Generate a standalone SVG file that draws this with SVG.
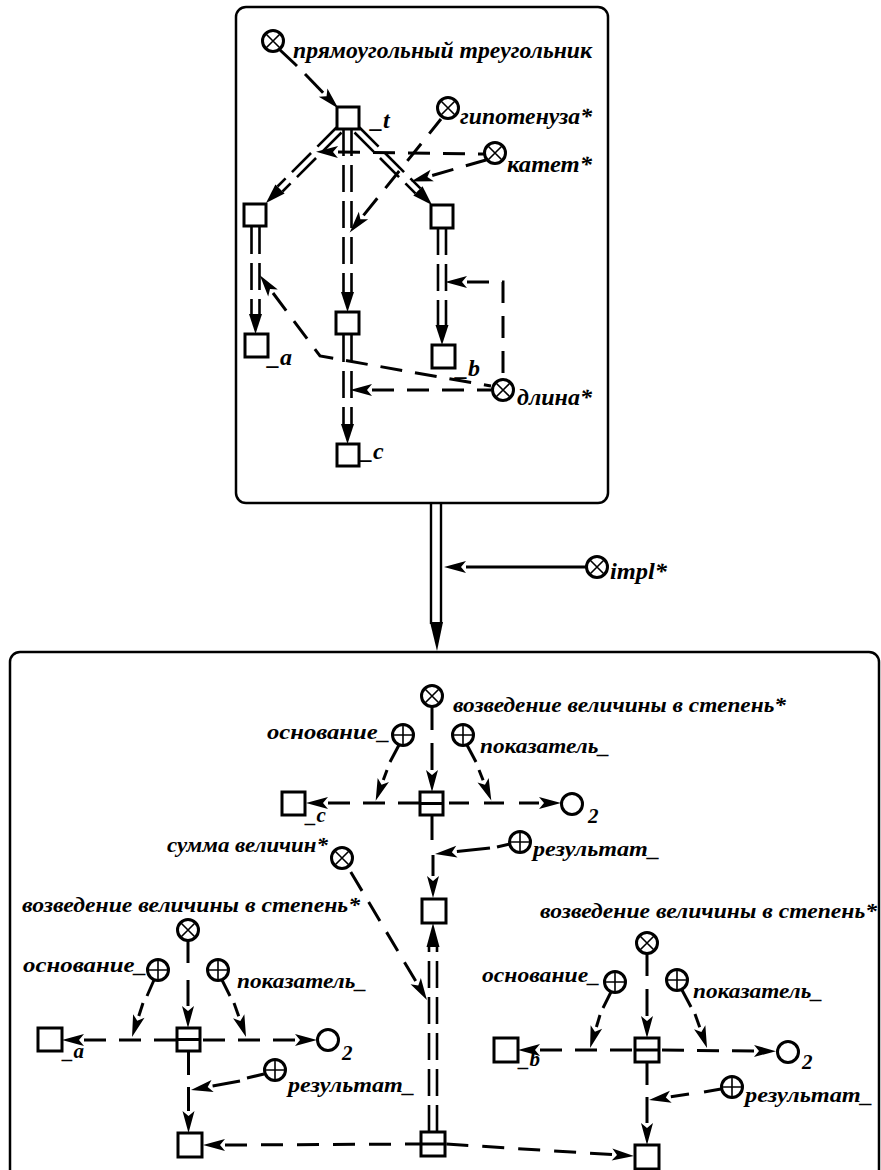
<svg xmlns="http://www.w3.org/2000/svg" xmlns:xlink="http://www.w3.org/1999/xlink" width="881" height="1170" viewBox="0 0 881 1170">
<style>
.bg{fill:#fff}
.fr{fill:none;stroke:#000;stroke-width:2.5}
.n{fill:#fff;stroke:#000;stroke-width:3}
.x{stroke:#000;stroke-width:1.6;fill:none}
.ln{stroke:#000;stroke-width:3;fill:none}
.d{stroke-dasharray:22 13}
.dd{stroke:#000;stroke-width:2.6;fill:none;stroke-dasharray:27 9}
.ah{fill:#000}
text{font-family:"Liberation Serif","Times New Roman",serif;font-style:italic;font-weight:bold;fill:#000}
.t1{font-size:24px}
.t2{font-size:21px}
</style>
<defs>
<marker id="ah" markerUnits="userSpaceOnUse" markerWidth="24" markerHeight="12" refX="0" refY="6" orient="auto-start-reverse" overflow="visible">
<path d="M0,0 L22,6 L0,12 L5,6 Z" fill="#000"/>
</marker>
<g id="ox"><circle r="10.5" class="n"/><path d="M-7,-7 L7,7 M-7,7 L7,-7" class="x"/></g>
<g id="op"><circle r="10.5" class="n"/><path d="M-10.5,0 H10.5 M0,-10.5 V10.5" class="x" stroke-width="2.2"/></g>
<g id="oo"><circle r="10.5" class="n"/></g>
</defs>
<rect class="bg" width="881" height="1170"/>

<g id="frame-top"><rect class="fr" x="236" y="7" width="372" height="496" rx="10"/></g>
<g id="frame-bottom"><rect class="fr" x="10" y="652" width="869" height="560" rx="10"/></g>

<g id="connectors">
  <path class="ln" d="M279,49 L297,66"/>
  <path class="ln" d="M323.1,92.7 L305,74" marker-start="url(#ah)"/>
  <path class="ln d" d="M363.5,215.4 L441,119" marker-start="url(#ah)"/>
  <path class="ln d" d="M338,152 L484,154" marker-start="url(#ah)"/>
  <path class="ln d" d="M432.2,175.5 L486,160" marker-start="url(#ah)"/>
  <path class="ln d" d="M273,293 L320,356 L491,386" marker-start="url(#ah)"/>
  <path class="ln d" d="M372,390 L491,390" marker-start="url(#ah)"/>
  <path class="ln d" d="M467,282 L503,282 L503,378" marker-start="url(#ah)"/>

  <path class="dd" d="M341.5,132.5 L282.5,191.5 M336.5,127.5 L277.5,186.5"/>
  <polygon class="ah" points="266,203 284.6,193.6 275.4,184.4"/>
  <path class="dd" d="M359.5,127.5 L420.4,188.4 M354.5,132.5 L415.4,193.4"/>
  <polygon class="ah" points="432,205 422.5,186.3 413.3,195.5"/>
  <path class="dd" d="M343.5,129 V292 M351.5,129 V292"/>
  <polygon class="ah" points="341,292 354,292 347.5,312"/>
  <path class="dd" d="M343.5,335 V424 M351.5,335 V424"/>
  <polygon class="ah" points="341,424 354,424 347.5,444"/>
  <path class="dd" d="M251.5,227 V314 M259.5,227 V314"/>
  <polygon class="ah" points="249,314 262,314 255.5,334"/>
  <path class="dd" d="M438,228 V325 M446,228 V325"/>
  <polygon class="ah" points="435.5,325 448.5,325 442,345"/>

  <path d="M431,504 V624 M441,504 V624" stroke="#000" stroke-width="2.4" fill="none"/>
  <polygon class="ah" points="430,622 443,622 437,651"/>
  <path class="ln" d="M466,567 L586,567" stroke-width="2.4" marker-start="url(#ah)"/>

  <path class="ln" d="M432,707 L432,730"/>
  <path class="ln" d="M432,770 L432,743" marker-start="url(#ah)"/>
  <path class="ln" d="M399,745 L390,762"/>
  <path class="ln" d="M383.3,780 L387,770" marker-start="url(#ah)"/>
  <path class="ln" d="M467,745 L476,762"/>
  <path class="ln" d="M483.1,780.2 L479,770" marker-start="url(#ah)"/>
  <path class="ln d" d="M328,803 L420,803" marker-start="url(#ah)"/>
  <path class="ln" d="M539,803 L443,803" stroke-dasharray="20 15" marker-start="url(#ah)"/>
  <path class="ln" d="M432,815 L432,840"/>
  <path class="ln" d="M433,876 L433,855" marker-start="url(#ah)"/>
  <path class="ln" d="M510,844 L497,847"/>
  <path class="ln" d="M456.9,851.6 L490,848" marker-start="url(#ah)"/>
  <path class="ln d" d="M415.7,981.1 L349,869" marker-start="url(#ah)"/>

  <path class="dd" d="M429,1132 V946 M437,1132 V946" stroke-dasharray="30 8"/>
  <polygon class="ah" points="426.5,947 439.5,947 433,923"/>
  <path class="ln" d="M225,1145 L421,1144" stroke-dasharray="22 14" marker-start="url(#ah)"/>
  <path class="ln" d="M612,1154.6 L445,1144" stroke-dasharray="22 14" marker-start="url(#ah)"/>

  <path class="ln" d="M188,941 L188,963"/>
  <path class="ln" d="M188,1006 L188,980" marker-start="url(#ah)"/>
  <path class="ln" d="M154,980 L147,996"/>
  <path class="ln" d="M138.8,1016 L143,1003" marker-start="url(#ah)"/>
  <path class="ln" d="M222,980 L230,996"/>
  <path class="ln" d="M238.7,1016.3 L234,1003" marker-start="url(#ah)"/>
  <path class="ln d" d="M84,1040 L177,1040" marker-start="url(#ah)"/>
  <path class="ln d" d="M295,1040 L200,1040" marker-start="url(#ah)"/>
  <path class="ln" d="M188.5,1051 L188.5,1075"/>
  <path class="ln" d="M188.5,1111 L188.5,1087" marker-start="url(#ah)"/>
  <path class="ln" d="M264,1074 L247,1078"/>
  <path class="ln" d="M212.6,1086 L240,1081" marker-start="url(#ah)"/>

  <path class="ln" d="M647,954 L647,976"/>
  <path class="ln" d="M647,1016 L647,989" marker-start="url(#ah)"/>
  <path class="ln" d="M611,992 L603,1008"/>
  <path class="ln" d="M596.4,1027 L600,1015" marker-start="url(#ah)"/>
  <path class="ln" d="M682,990 L691,1007"/>
  <path class="ln" d="M699.7,1027.3 L695,1014" marker-start="url(#ah)"/>
  <path class="ln d" d="M540,1050 L635,1050" marker-start="url(#ah)"/>
  <path class="ln d" d="M754,1051 L659,1050" marker-start="url(#ah)"/>
  <path class="ln" d="M647,1062 L647,1085"/>
  <path class="ln" d="M647,1123 L647,1097" marker-start="url(#ah)"/>
  <path class="ln" d="M721,1089 L704,1092"/>
  <path class="ln" d="M670.8,1096.7 L689,1094" marker-start="url(#ah)"/>
</g>

<g id="n-triangle-class"><use xlink:href="#ox" x="273" y="41"/><text class="t1" x="293" y="58" textLength="299" lengthAdjust="spacingAndGlyphs">прямоугольный треугольник</text></g>
<g id="n-t"><rect class="n" x="337" y="107" width="22" height="22"/><text class="t1" x="371" y="128">_t</text></g>
<g id="n-hyp"><use xlink:href="#ox" x="448" y="108"/><text class="t1" x="460" y="124" textLength="132" lengthAdjust="spacingAndGlyphs">гипотенуза*</text></g>
<g id="n-cat"><use xlink:href="#ox" x="495" y="153"/><text class="t1" x="507" y="172" textLength="85" lengthAdjust="spacingAndGlyphs">катет*</text></g>
<g id="n-left"><rect class="n" x="244" y="204" width="22" height="22"/></g>
<g id="n-right"><rect class="n" x="431" y="205" width="22" height="23"/></g>
<g id="n-mid"><rect class="n" x="336" y="312" width="23" height="22"/></g>
<g id="n-a"><rect class="n" x="245" y="334" width="23" height="23"/><text class="t1" x="268" y="365">_a</text></g>
<g id="n-b"><rect class="n" x="432" y="345" width="23" height="23"/><text class="t1" x="456" y="376">_b</text></g>
<g id="n-c"><rect class="n" x="337" y="444" width="22" height="22"/><text class="t1" x="361" y="459">_c</text></g>
<g id="n-len"><use xlink:href="#ox" x="503" y="390"/><text class="t1" x="517" y="405" textLength="75" lengthAdjust="spacingAndGlyphs">длина*</text></g>
<g id="n-impl"><use xlink:href="#ox" x="597" y="567"/><text class="t1" x="610" y="579" textLength="57" lengthAdjust="spacingAndGlyphs">impl*</text></g>

<g id="n-pow-c"><use xlink:href="#ox" x="432" y="696"/><text class="t2" x="453" y="712" textLength="333" lengthAdjust="spacingAndGlyphs">возведение величины в степень*</text></g>
<g id="n-base-c"><use xlink:href="#op" x="403" y="735"/><text class="t2" x="267" y="739" textLength="123" lengthAdjust="spacingAndGlyphs">основание_</text></g>
<g id="n-exp-c"><use xlink:href="#op" x="463" y="735"/><text class="t2" x="480" y="753" textLength="130" lengthAdjust="spacingAndGlyphs">показатель_</text></g>
<g id="n-sq-c"><rect class="n" x="420" y="792" width="23" height="23"/><path class="ln" d="M420,803.5 H443" stroke-width="2"/></g>
<g id="n-cc"><rect class="n" x="282" y="792" width="23" height="23"/><text class="t2" x="306" y="822">_c</text></g>
<g id="n-two-c"><use xlink:href="#oo" x="572" y="804"/><text class="t2" x="588" y="823">2</text></g>
<g id="n-res-c"><use xlink:href="#op" x="520" y="842"/><text class="t2" x="533" y="856" textLength="127" lengthAdjust="spacingAndGlyphs">результат_</text></g>
<g id="n-sum"><use xlink:href="#ox" x="342" y="858"/><text class="t2" x="167" y="852" textLength="161" lengthAdjust="spacingAndGlyphs">сумма величин*</text></g>
<g id="n-sumres"><rect class="n" x="422" y="899" width="24" height="24"/></g>
<g id="n-sq-sum"><rect class="n" x="421" y="1132" width="24" height="24"/><path class="ln" d="M421,1144 H445" stroke-width="2"/></g>

<g id="n-pow-a"><use xlink:href="#ox" x="188" y="930"/><text class="t2" x="22" y="912" textLength="338" lengthAdjust="spacingAndGlyphs">возведение величины в степень*</text></g>
<g id="n-base-a"><use xlink:href="#op" x="158" y="970"/><text class="t2" x="23" y="972" textLength="124" lengthAdjust="spacingAndGlyphs">основание_</text></g>
<g id="n-exp-a"><use xlink:href="#op" x="218" y="970"/><text class="t2" x="237" y="988" textLength="130" lengthAdjust="spacingAndGlyphs">показатель_</text></g>
<g id="n-sq-a"><rect class="n" x="177" y="1028" width="23" height="23"/><path class="ln" d="M177,1039.5 H200" stroke-width="2"/></g>
<g id="n-aa"><rect class="n" x="38" y="1028" width="24" height="23"/><text class="t2" x="63" y="1058">_a</text></g>
<g id="n-two-a"><use xlink:href="#oo" x="328" y="1040"/><text class="t2" x="342" y="1060">2</text></g>
<g id="n-res-a"><use xlink:href="#op" x="275" y="1070"/><text class="t2" x="288" y="1092" textLength="127" lengthAdjust="spacingAndGlyphs">результат_</text></g>
<g id="n-sq-a2"><rect class="n" x="178" y="1133" width="24" height="24"/></g>

<g id="n-pow-b"><use xlink:href="#ox" x="647" y="943"/><text class="t2" x="540" y="918" textLength="337" lengthAdjust="spacingAndGlyphs">возведение величины в степень*</text></g>
<g id="n-base-b"><use xlink:href="#op" x="615" y="982"/><text class="t2" x="482" y="982" textLength="118" lengthAdjust="spacingAndGlyphs">основание_</text></g>
<g id="n-exp-b"><use xlink:href="#op" x="677" y="980"/><text class="t2" x="693" y="998" textLength="130" lengthAdjust="spacingAndGlyphs">показатель_</text></g>
<g id="n-sq-b"><rect class="n" x="635" y="1038" width="24" height="24"/><path class="ln" d="M635,1050 H659" stroke-width="2"/></g>
<g id="n-bb"><rect class="n" x="494" y="1038" width="24" height="24"/><text class="t2" x="519" y="1066">_b</text></g>
<g id="n-two-b"><use xlink:href="#oo" x="788" y="1052"/><text class="t2" x="802" y="1069">2</text></g>
<g id="n-res-b"><use xlink:href="#op" x="732" y="1087"/><text class="t2" x="745" y="1102" textLength="128" lengthAdjust="spacingAndGlyphs">результат_</text></g>
<g id="n-sq-b2"><rect class="n" x="635" y="1145" width="24" height="24"/></g>
</svg>
